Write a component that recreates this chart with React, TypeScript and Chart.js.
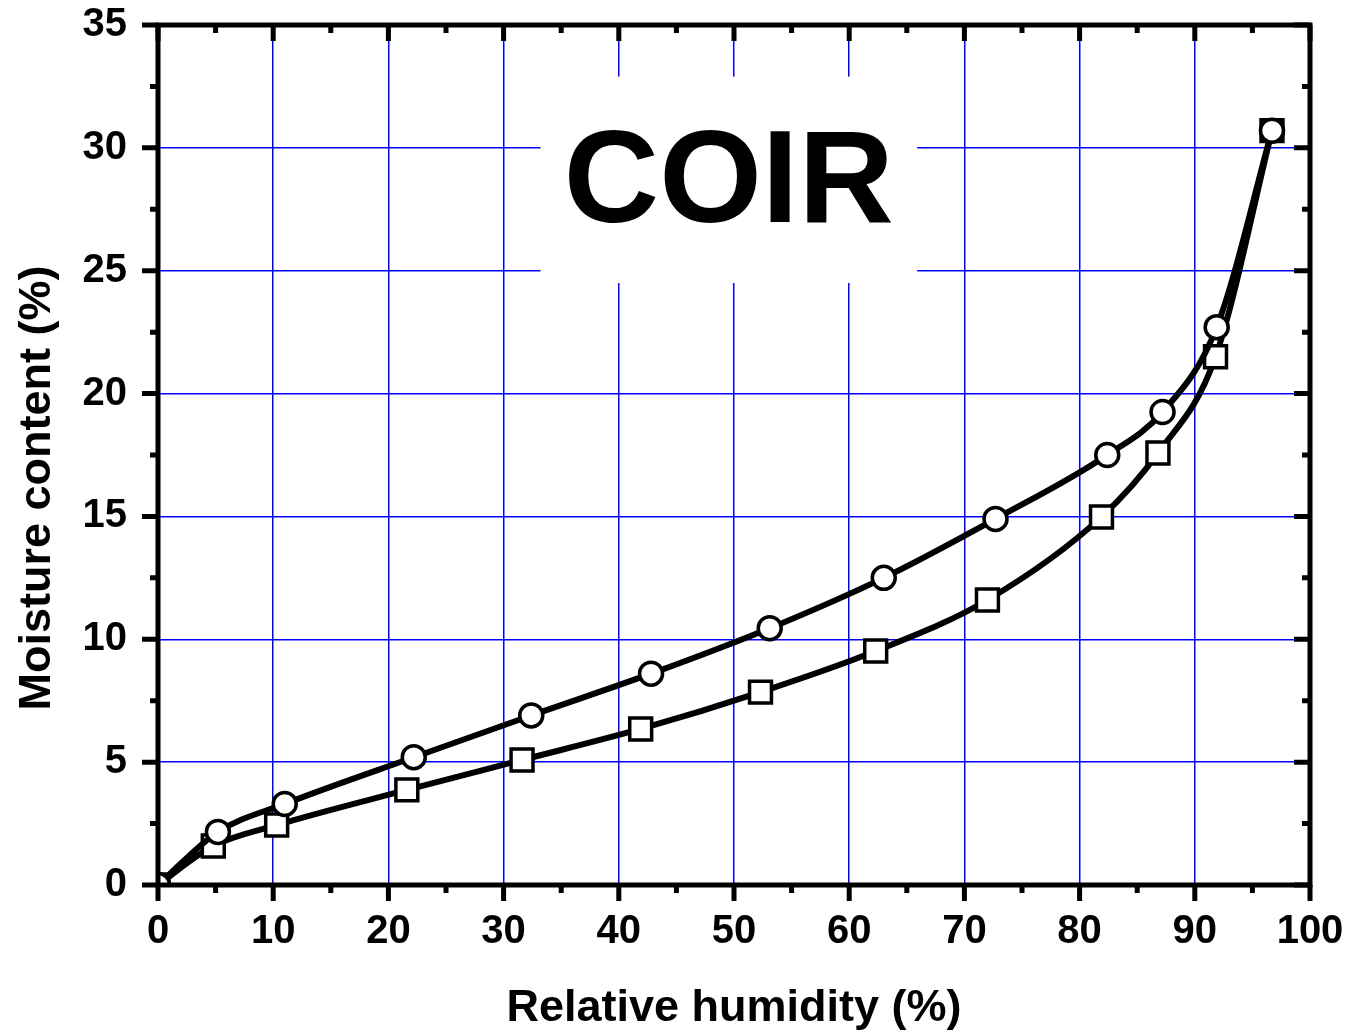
import React, { useEffect, useRef } from "react";
import { Chart, registerables } from "chart.js";

Chart.register(...registerables);

// Desorption (circles) – upper curve
const desorptionRH = [0, 5.2, 11.0, 22.2, 32.4, 42.8, 53.1, 63.0, 72.7, 82.4, 87.2, 91.9, 96.7];
const desorptionMC = [0, 2.16, 3.3, 5.2, 6.9, 8.6, 10.45, 12.5, 14.9, 17.5, 19.25, 22.7, 30.7];

// Adsorption (squares) – lower curve
const adsorptionRH = [0, 4.8, 10.3, 21.6, 31.6, 41.9, 52.3, 62.3, 72.0, 81.9, 86.8, 91.8, 96.7];
const adsorptionMC = [0, 1.59, 2.44, 3.87, 5.09, 6.35, 7.85, 9.52, 11.6, 14.98, 17.58, 21.5, 30.7];

const xMajorTicks = [0, 10, 20, 30, 40, 50, 60, 70, 80, 90, 100];
const xMinorTicks = [5, 15, 25, 35, 45, 55, 65, 75, 85, 95];
const yMajorTicks = [0, 5, 10, 15, 20, 25, 30, 35];
const yMinorTicks = [2.5, 7.5, 12.5, 17.5, 22.5, 27.5, 32.5];

const titleText = "COIR";
const xTitle = "Relative humidity (%)";
const yTitle = "Moisture content (%)";
// title box in data units [xMin, xMax, yMin, yMax]
const titleBox = [33.2, 65.9, 24.5, 32.9];

const FONT = 'Arial, "Liberation Sans", Helvetica, sans-serif';

const toPts = (xs: number[], ys: number[]) => xs.map((x, i) => ({ x, y: ys[i] }));

const framePlugin = {
  id: "framePlugin",
  beforeDatasetsDraw(chart: any) {
    const { ctx, scales, chartArea } = chart;
    const x = scales.x, y = scales.y;
    const x0 = x.getPixelForValue(titleBox[0]);
    const x1 = x.getPixelForValue(titleBox[1]);
    const y0 = y.getPixelForValue(titleBox[3]);
    const y1 = y.getPixelForValue(titleBox[2]);
    ctx.save();
    ctx.fillStyle = "#ffffff";
    ctx.fillRect(x0, y0, x1 - x0, y1 - y0);
    ctx.fillStyle = "#000000";
    ctx.font = `bold 132px ${FONT}`;
    ctx.textAlign = "center";
    ctx.textBaseline = "alphabetic";
    ctx.fillText(titleText, (x0 + x1) / 2, y0 + 145);
    // y axis title
    ctx.font = `bold 45px ${FONT}`;
    ctx.textBaseline = "middle";
    ctx.translate(38, (chartArea.top + chartArea.bottom) / 2 + 33);
    ctx.rotate(-Math.PI / 2);
    ctx.fillText(yTitle, 0, 0);
    ctx.restore();
  },
  afterDatasetsDraw(chart: any) {
    const { ctx, chartArea, scales } = chart;
    const { left, right, top, bottom } = chartArea;
    const x = scales.x, y = scales.y;
    const MAJ = 16, MIN = 8;
    ctx.save();
    ctx.strokeStyle = "#000";
    ctx.lineWidth = 5;
    ctx.lineCap = "butt";
    ctx.beginPath();
    ctx.rect(left, top, right - left, bottom - top);
    ctx.stroke();
    ctx.beginPath();
    const xt = (v: number, len: number) => {
      const px = x.getPixelForValue(v);
      ctx.moveTo(px, bottom);
      ctx.lineTo(px, bottom + len);
      ctx.moveTo(px, top);
      ctx.lineTo(px, top + len);
    };
    const yt = (v: number, len: number) => {
      const py = y.getPixelForValue(v);
      ctx.moveTo(left, py);
      ctx.lineTo(left - len, py);
      ctx.moveTo(right, py);
      ctx.lineTo(right - len, py);
    };
    xMajorTicks.forEach((v) => xt(v, MAJ));
    xMinorTicks.forEach((v) => xt(v, MIN));
    yMajorTicks.forEach((v) => yt(v, MAJ));
    yMinorTicks.forEach((v) => yt(v, MIN));
    ctx.stroke();
    ctx.restore();
  },
};

export default function App() {
  const ref = useRef<HTMLCanvasElement | null>(null);
  useEffect(() => {
    if (!ref.current) return;
    const chart = new Chart(ref.current, {
      type: "scatter",
      data: {
        datasets: [
          {
            label: "Desorption",
            data: toPts(desorptionRH, desorptionMC),
            showLine: true,
            borderColor: "#000",
            borderWidth: 6,
            cubicInterpolationMode: "monotone",
            pointStyle: "circle",
            pointRadius: 11.5,
            pointBorderWidth: 3.5,
            pointBackgroundColor: "#fff",
            pointBorderColor: "#000",
            clip: 0,
          } as any,
          {
            label: "Adsorption",
            data: toPts(adsorptionRH, adsorptionMC),
            showLine: true,
            borderColor: "#000",
            borderWidth: 6,
            cubicInterpolationMode: "monotone",
            pointStyle: "rect",
            pointRadius: 15.5,
            pointBorderWidth: 3.5,
            pointBackgroundColor: "#fff",
            pointBorderColor: "#000",
            clip: 0,
          } as any,
        ],
      },
      options: {
        responsive: false,
        animation: false,
        layout: { padding: { top: 25, right: 49, left: 0, bottom: 0 } },
        plugins: { legend: { display: false }, tooltip: { enabled: false } },
        scales: {
          x: {
            type: "linear",
            min: 0,
            max: 100,
            afterFit: (s: any) => {
              s.height = 151;
              s.paddingLeft = 0;
              s.paddingRight = 0;
            },
            ticks: {
              stepSize: 10,
              padding: 23,
              color: "#000",
              font: { family: FONT, size: 40, weight: "bold" },
            },
            grid: { color: "#0000ff", lineWidth: 1.5, drawTicks: false },
            border: { display: false },
            title: {
              display: true,
              text: xTitle,
              color: "#000",
              font: { family: FONT, size: 45, weight: "bold" },
              padding: { top: 0, bottom: 0 },
            },
          },
          y: {
            type: "linear",
            min: 0,
            max: 35,
            afterFit: (s: any) => {
              s.width = 158;
              s.paddingTop = 0;
              s.paddingBottom = 0;
            },
            ticks: {
              stepSize: 5,
              padding: 31,
              color: "#000",
              font: { family: FONT, size: 40, weight: "bold" },
            },
            grid: { color: "#0000ff", lineWidth: 1.5, drawTicks: false },
            border: { display: false },
            title: { display: false, text: yTitle },
          },
        },
      },
      plugins: [framePlugin],
    });
    return () => chart.destroy();
  }, []);
  return (
    <div style={{ position: "absolute", left: 0, top: 0, width: 1359, height: 1036, background: "#fff" }}>
      <canvas ref={ref} width={1359} height={1036} />
    </div>
  );
}
